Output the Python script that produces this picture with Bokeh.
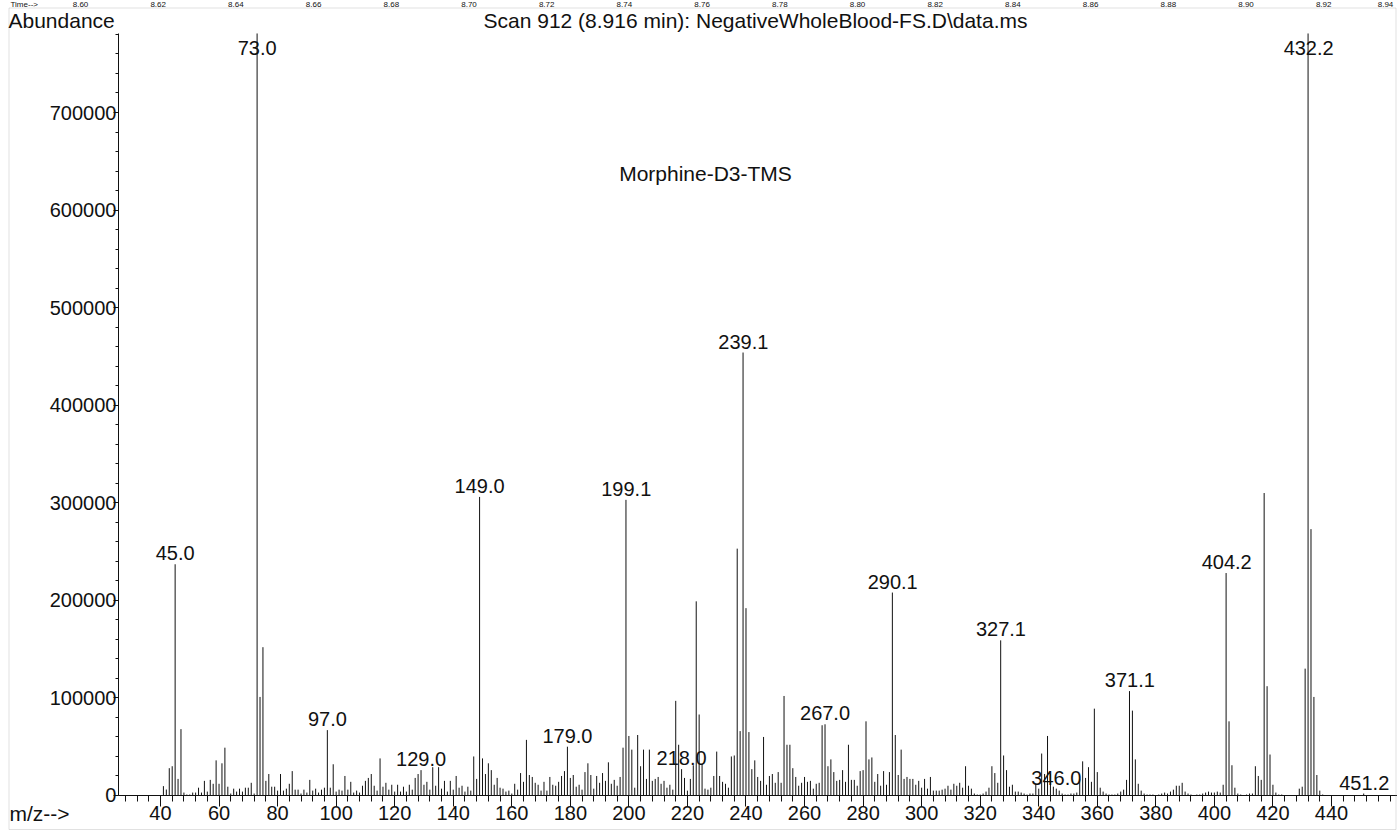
import numpy as np
from bokeh.plotting import figure
from bokeh.models import Range1d, FixedTicker, NumeralTickFormatter, Label, ColumnDataSource, BoxAnnotation
from bokeh.core.properties import value
from bokeh.embed import file_html
from bokeh.resources import INLINE

# ---------------- data ----------------
mz = list(range(41, 452))
abundance = [
    9600, 6100, 28000, 30000, 237000, 17000, 68000, 3000, 1000, 1000,            # 41-50
    3000, 3000, 8000, 3000, 15000, 4000, 16000, 12000, 36000, 12000,             # 51-60
    33000, 49000, 9000, 2000, 7000, 4000, 7000, 4000, 8000, 8000,                # 61-70
    13000, 2000, 781000, 101000, 152000, 15000, 22000, 9000, 9000, 5000,         # 71-80
    22000, 5000, 7000, 12000, 25000, 6000, 6000, 2000, 6000, 3000,               # 81-90
    16000, 5000, 7000, 3000, 6000, 8000, 67000, 8000, 32000, 4000,               # 91-100
    6000, 5000, 20000, 6000, 14000, 3000, 5000, 3000, 10000, 15000,              # 101-110
    18000, 22000, 10000, 5000, 38000, 9000, 13000, 6000, 11000, 4000,            # 111-120
    11000, 4000, 9000, 4000, 11000, 6000, 18000, 22000, 26000, 11000,            # 121-130
    14000, 6000, 29000, 10000, 29000, 7000, 15000, 4000, 15000, 6000,            # 131-140
    20000, 8000, 10000, 4000, 9000, 5000, 40000, 17000, 306000, 38000,           # 141-150
    22000, 33000, 26000, 11000, 18000, 8000, 7000, 4000, 5000, 2000,             # 151-160
    12000, 6000, 23000, 14000, 57000, 21000, 19000, 13000, 11000, 5000,          # 161-170
    14000, 5000, 19000, 11000, 10000, 14000, 20000, 25000, 50000, 18000,         # 171-180
    21000, 9000, 11000, 6000, 24000, 33000, 21000, 7000, 20000, 13000,           # 181-190
    23000, 15000, 34000, 12000, 16000, 10000, 19000, 49000, 303000, 61000,       # 191-200
    47000, 8000, 62000, 30000, 47000, 17000, 47000, 15000, 17000, 19000,         # 201-210
    12000, 15000, 8000, 11000, 6000, 97000, 52000, 27000, 18000, 5000,           # 211-220
    17000, 31000, 199000, 83000, 32000, 7000, 6000, 8000, 20000, 45000,          # 221-230
    20000, 14000, 12000, 8000, 40000, 41000, 253000, 66000, 454000, 192000,      # 231-240
    65000, 27000, 36000, 19000, 15000, 60000, 11000, 20000, 22000, 13000,        # 241-250
    24000, 13000, 102000, 52000, 52000, 28000, 19000, 10000, 13000, 19000,       # 251-260
    14000, 15000, 7000, 12000, 13000, 72000, 73000, 30000, 37000, 24000,         # 261-270
    15000, 16000, 26000, 14000, 52000, 16000, 16000, 10000, 25000, 26000,        # 271-280
    76000, 37000, 39000, 14000, 22000, 10000, 25000, 11000, 24000, 208000,       # 281-290
    62000, 21000, 47000, 17000, 19000, 17000, 17000, 11000, 15000, 8000,         # 291-300
    17000, 7000, 19000, 5000, 5000, 5000, 6000, 7000, 10000, 6000,               # 301-310
    12000, 10000, 13000, 8000, 30000, 10000, 7000, 2000, 1000, 1000,             # 311-320
    2000, 4000, 8000, 30000, 23000, 13000, 159000, 41000, 26000, 9000,           # 321-330
    11000, 4000, 4000, 3000, 2000, 1000, 2000, 2000, 12000, 7000,                # 331-340
    43000, 22000, 61000, 22000, 9000, 7000, 5000, 2000, 1000, 1000,              # 341-350
    2000, 2000, 3000, 17000, 35000, 18000, 29000, 14000, 89000, 24000,           # 351-360
    8000, 4000, 2000, 1000, 1000, 1000, 2000, 4000, 6000, 16000,                 # 361-370
    107000, 87000, 37000, 12000, 5000, 2000, 1000, 1000, 1000, 500,              # 371-380
    1000, 2000, 3000, 2000, 4000, 6000, 10000, 10000, 13000, 4000,               # 381-390
    2000, 1000, 500, 1000, 1000, 2000, 3000, 4000, 3000, 3000,                   # 391-400
    4000, 3000, 11000, 228000, 76000, 31000, 8000, 2000, 1000, 0,                # 401-410
    1000, 2000, 2000, 30000, 20000, 16000, 310000, 112000, 42000, 11000,         # 411-420
    3000, 1000, 1000, 500, 500, 500, 500, 500, 7000, 9000,                       # 421-430
    130000, 781000, 273000, 101000, 21000, 5000, 1000, 0, 0, 0,                  # 431-440
    0, 0, 0, 0, 0, 0, 0, 0, 0, 0,                                                # 441-450
    2000,                                                                        # 451
]
label_mz = [45.0, 73.0, 97.0, 129.0, 149.0, 179.0, 199.1, 218.0, 239.1, 267.0,
            290.1, 327.1, 346.0, 371.1, 404.2, 432.2, 451.2]
x_major = list(range(40, 441, 20))
x_minor = list(range(28, 461, 4))
y_major = list(range(0, 700001, 100000))
y_minor = list(range(0, 780001, 20000))
time_labels = ["8.60", "8.62", "8.64", "8.66", "8.68", "8.70", "8.72", "8.74", "8.76",
               "8.78", "8.80", "8.82", "8.84", "8.86", "8.88", "8.90", "8.92", "8.94"]

title_text = "Scan 912 (8.916 min): NegativeWholeBlood-FS.D\\data.ms"
compound = "Morphine-D3-TMS"

# ---------------- figure geometry ----------------
W, H = 1397, 831
AX_X0, AX_X1 = 25.65, 462.55        # m/z extent of the drawn axis
AX_Y1 = 780970                      # abundance at top of the drawn axis
X_START, X_END = -14.65, 462.55     # frame covers the whole canvas
Y_START, Y_END = -36900, 814790
LABEL_CAP = 755000
FONT = "Liberation Sans"
FS = "20px"
FS_HEAD = "21px"
INK = "#111111"

p = figure(width=W, height=H, output_backend="svg", toolbar_location=None,
           x_range=Range1d(X_START, X_END), y_range=Range1d(Y_START, Y_END))
p.title.visible = False
p.min_border_left = 0
p.min_border_right = 0
p.min_border_top = 0
p.min_border_bottom = 0
p.outline_line_color = None
p.xgrid.visible = False
p.ygrid.visible = False
p.background_fill_color = "white"
p.border_fill_color = "white"

# outer frame of the ChemStation panel
p.add_layout(BoxAnnotation(left=8.5, right=W - 1.5, bottom=2, top=H - 7.5,
                           left_units="screen", right_units="screen",
                           bottom_units="screen", top_units="screen",
                           fill_color=None, line_color="#9a9a9a", line_width=1))

src = ColumnDataSource(dict(x=mz, y0=[0] * len(mz), y1=abundance))
p.segment(x0="x", y0="y0", x1="x", y1="y1", source=src, line_color=INK, line_width=1)

# peak labels
ab = dict(zip(mz, abundance))
lab_y = [min(ab[int(round(m))], LABEL_CAP) for m in label_mz]
lab_txt = [f"{m:.1f}" for m in label_mz]
p.text(x=label_mz, y=lab_y, text=lab_txt, text_align="center", text_baseline="bottom",
       y_offset=-4, text_font=value(FONT), text_font_size=FS, text_color=INK)

for ax in (p.xaxis[0], p.yaxis[0]):
    ax.axis_line_color = INK
    ax.major_tick_line_color = INK
    ax.minor_tick_line_color = INK
    ax.major_label_text_font = FONT
    ax.major_label_text_font_size = FS
    ax.major_label_text_color = INK
    ax.major_tick_in = 0
    ax.minor_tick_in = 0

p.xaxis.fixed_location = 0
p.xaxis.bounds = (AX_X0, AX_X1)
p.xaxis.ticker = FixedTicker(ticks=x_major, minor_ticks=x_minor)
p.xaxis.major_tick_out = 11
p.xaxis.minor_tick_out = 6
p.xaxis.major_label_standoff = 0

p.yaxis.fixed_location = AX_X0
p.yaxis.bounds = (0, AX_Y1)
p.yaxis.ticker = FixedTicker(ticks=y_major, minor_ticks=y_minor)
p.yaxis.formatter = NumeralTickFormatter(format="0")
p.yaxis.major_tick_out = 5
p.yaxis.minor_tick_out = 3
p.yaxis.major_label_standoff = -3

def add_label(txt, x, y, align, size=FS_HEAD):
    p.add_layout(Label(x=x, y=y, x_units="screen", y_units="screen", text=txt,
                       text_align=align, text_baseline="middle",
                       text_font=FONT, text_font_size=size, text_color=INK))

add_label(title_text, 755, H - 19.5, "center")
add_label("Abundance", 8, H - 19.5, "left")
add_label("m/z-->", 9, H - 813, "left")
add_label(compound, 705, H - 173, "center")

# time strip of the chromatogram above (shrunk so it fits above the frame line)
add_label("Time-->", 10, H - 3.5, "left", "8px")
for i, t in enumerate(time_labels):
    add_label(t, min(80 + 77.7 * i, W - 12), H - 3.5, "center", "8px")

open("out.html", "w").write(file_html(p, INLINE))
